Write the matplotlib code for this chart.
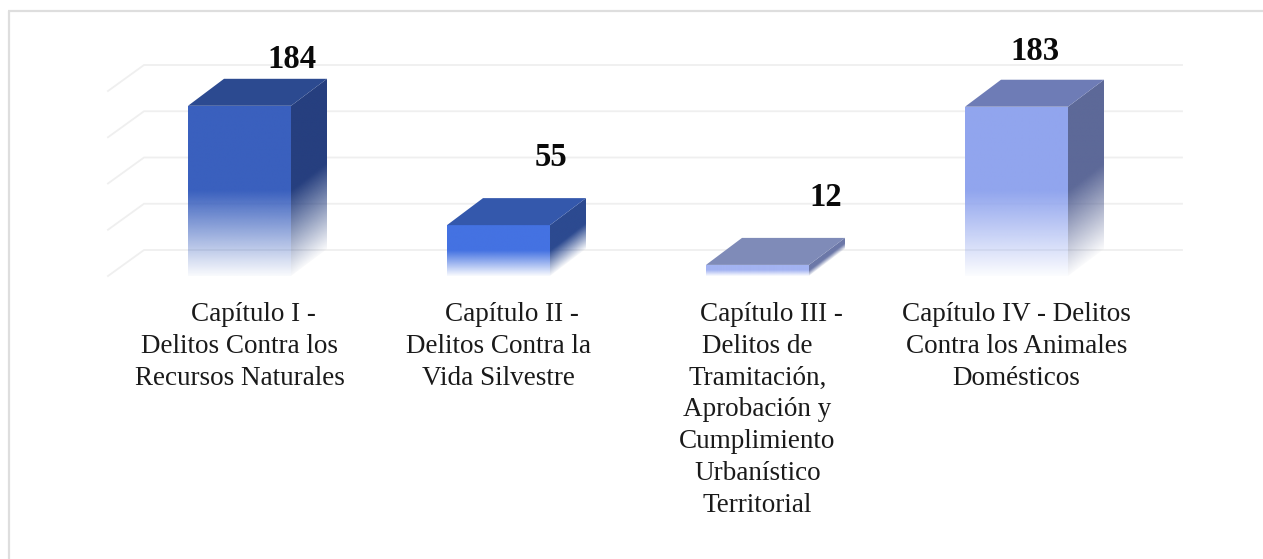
import matplotlib
matplotlib.use("Agg")
import matplotlib.pyplot as plt
from matplotlib.colors import to_rgb
from matplotlib.patches import Polygon
import numpy as np

plt.rcParams['font.family'] = ['Liberation Serif', 'DejaVu Serif']

valores = [184, 55, 12, 183]
etiquetas = [
    "\u00a0\u00a0\u00a0\u00a0Capítulo I -\nDelitos Contra los\nRecursos Naturales",
    "\u00a0\u00a0\u00a0\u00a0Capítulo II -\nDelitos Contra la\nVida Silvestre",
    "\u00a0\u00a0\u00a0\u00a0Capítulo III -\nDelitos de\nTramitación,\nAprobación y\nCumplimiento\nUrbanístico\nTerritorial",
    "Capítulo IV - Delitos\nContra los Animales\nDomésticos",
]
color_frente = ["#3A60BE", "#4472E2", "#A3B3F2", "#91A5EE"]
color_techo = ["#2C4A90", "#3458AC", "#7F8BB8", "#6E7CB6"]
color_lado = ["#263F7F", "#2C4A90", "#6C78A8", "#5D6998"]
marcas_y = [0, 50, 100, 150, 200]

# pixeles por unidad, referencia de la figura
ANCHO, ALTO = 1263, 559
PX_CAT = 259.0
PX_VAL = 0.925
X0_PX, Y0_PX = 239.5, 276.0

ancho_barra = 103 / PX_CAT
dx = 36 / PX_CAT
dy = 27 / PX_VAL
grid_x0 = (144 - X0_PX) / PX_CAT
grid_x1 = (1182 - X0_PX) / PX_CAT
fondo_dy = 26 / PX_VAL

# posicion de los valores (pixeles) respecto al centro de cada barra
valor_dx = [52, 53, 68, 18]
valor_y = [60, 158, 198, 52]


def cara(ax, x0, x1, alto, color, sesgo=0.0):
    # cara con degradado: blanco abajo, color lleno desde la mitad
    ny, nx = 300, 40
    y = np.linspace(alto + sesgo, 0, ny)
    x = np.linspace(0, 1, nx)
    xx, yy = np.meshgrid(x, y)
    f = (yy - xx * sesgo) / alto
    img = np.zeros((ny, nx, 4))
    img[:, :, :3] = to_rgb(color)
    img[:, :, 3] = np.clip(0.03 + 0.97 * f / 0.5, 0, 1)
    im = ax.imshow(img, extent=[x0, x1, 0, alto + sesgo], aspect='auto',
                   interpolation='bilinear', zorder=3)
    borde = Polygon([(x0, 0), (x1, sesgo), (x1, alto + sesgo), (x0, alto)],
                    closed=True, transform=ax.transData)
    im.set_clip_path(borde)


fig = plt.figure(figsize=(ANCHO / 100, ALTO / 100), dpi=100)
ax = fig.add_axes([0, 0, 1, 1])

# marco parcial
ax.plot([(9 - X0_PX) / PX_CAT, (9 - X0_PX) / PX_CAT], [-(ALTO - Y0_PX) / PX_VAL, (Y0_PX - 10.5) / PX_VAL],
        color="#DEDEDE", lw=1.6, solid_capstyle='butt')
ax.plot([(8 - X0_PX) / PX_CAT, (ANCHO - X0_PX) / PX_CAT], [(Y0_PX - 10.5) / PX_VAL] * 2,
        color="#DEDEDE", lw=1.6, solid_capstyle='butt')

# rejilla: pared del fondo y piso
for v in marcas_y:
    ax.plot([grid_x0 - dx, grid_x0, grid_x1], [v, v + fondo_dy, v + fondo_dy],
            color="#EFEFEF", lw=1.3, zorder=1, solid_joinstyle='miter')

for i, v in enumerate(valores):
    x0 = i - ancho_barra / 2
    x1 = i + ancho_barra / 2
    cara(ax, x0, x1, v, color_frente[i])
    cara(ax, x1, x1 + dx, v, color_lado[i], sesgo=dy)
    ax.add_patch(Polygon([(x0, v), (x1, v), (x1 + dx, v + dy), (x0 + dx, v + dy)],
                         closed=True, fc=color_techo[i], ec='none', zorder=4))

    ax.text(i + valor_dx[i] / PX_CAT, (Y0_PX - valor_y[i]) / PX_VAL, str(v), ha='center', va='center',
            fontsize=23.5, fontweight='bold', color="#0A0A0A", zorder=5)
    ax.text(i, (Y0_PX - 302) / PX_VAL, etiquetas[i], ha='center', va='top',
            fontsize=19.5, color="#1A1A1A", linespacing=1.357, multialignment='center')

ax.set_xlim(-X0_PX / PX_CAT, (ANCHO - X0_PX) / PX_CAT)
ax.set_ylim(-(ALTO - Y0_PX) / PX_VAL, Y0_PX / PX_VAL)
ax.axis('off')

fig.savefig("out.png", dpi=100, facecolor='white')
